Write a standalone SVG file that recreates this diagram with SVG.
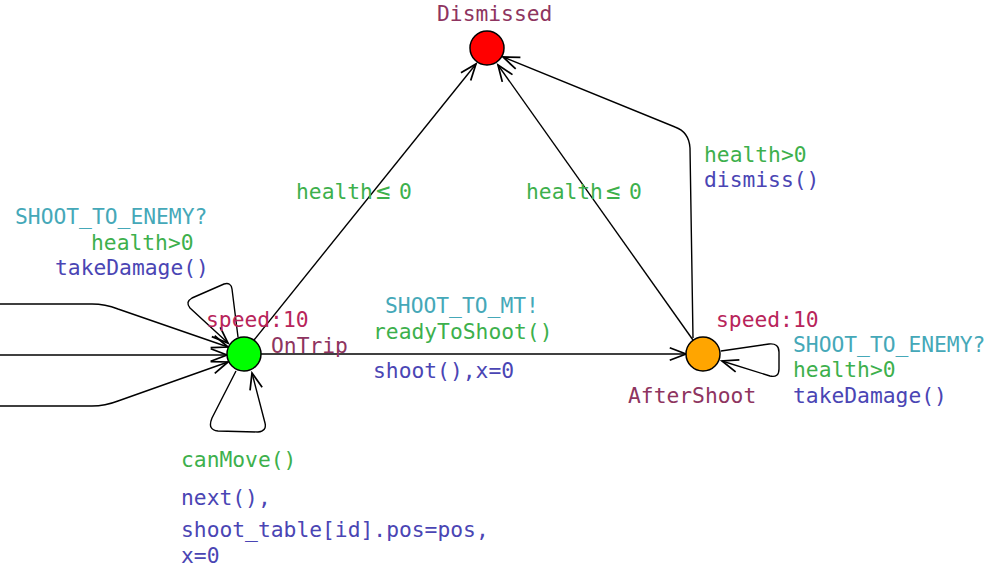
<svg xmlns="http://www.w3.org/2000/svg" width="991" height="571" viewBox="0 0 991 571">
<defs>
<marker id="arr" markerUnits="userSpaceOnUse" markerWidth="20" markerHeight="20" viewBox="-14 -8 16 16" refX="0" refY="0" orient="auto">
<path d="M-13,-5 L0,0 L-13,5" fill="none" stroke="#000" stroke-width="1.4"/>
</marker>
</defs>
<style>
text{font-family:"DejaVu Sans Mono","Liberation Mono",monospace;font-size:21.3px}
.e{fill:none;stroke:#000;stroke-width:1.4;marker-end:url(#arr)}
.loc{stroke:#000;stroke-width:1.5}
.nm{fill:#8e3460}
.inv{fill:#b8245a}
.sy{fill:#45a8b8}
.gd{fill:#3db04c}
.up{fill:#4a45b4}
.le{font-size:24px}
</style>
<g id="connectors">
<path class="e" d="M0,304 L92,304 Q105,304 118,309 L228,347"/>
<path class="e" d="M0,355 L227,355"/>
<path class="e" d="M0,406 L92,406 Q105,406 118,401 L228,362"/>
<path class="e" d="M254,340 L476,64"/>
<path class="e" d="M693,340 L498,65"/>
<path class="e" d="M693,338 L690,148 Q689,132 675,127 L503,57"/>
<path class="e" d="M261,354 L686,354"/>
<path class="e" d="M238,337 L232,289 Q231,282 224,284 L192,298 Q185,302 190,308 L228,343"/>
<path class="e" d="M236,371 L212,418 Q207,430 218,431 L258,432 Q267,431 265,423 L252,373"/>
<path class="e" d="M721,351 L769,344 Q779,343 779,352 L779,369 Q779,378 770,376 L722,361"/>
</g>
<g id="Dismissed">
<circle class="loc" cx="487" cy="48" r="17" fill="#ff0000"/>
<text class="nm" x="437" y="21">Dismissed</text>
</g>
<g id="OnTrip">
<circle class="loc" cx="244" cy="354" r="17" fill="#00ff00"/>
<text class="inv" x="206" y="327">speed:10</text>
<text class="nm" x="271" y="353">OnTrip</text>
</g>
<g id="AfterShoot">
<circle class="loc" cx="703" cy="354" r="17" fill="#ffa500"/>
<text class="inv" x="716" y="327">speed:10</text>
<text class="nm" x="628" y="403">AfterShoot</text>
</g>
<g id="labels">
<text class="gd" x="296" y="199">health<tspan class="le" x="376">≤</tspan><tspan x="399">0</tspan></text>
<text class="gd" x="526" y="199">health<tspan class="le" x="606">≤</tspan><tspan x="629">0</tspan></text>
<text class="gd" x="704" y="162">health&gt;0</text>
<text class="up" x="704" y="187">dismiss()</text>
<text class="sy" x="15" y="224">SHOOT_TO_ENEMY?</text>
<text class="gd" x="91" y="250">health&gt;0</text>
<text class="up" x="55" y="275">takeDamage()</text>
<text class="sy" x="385" y="313">SHOOT_TO_MT!</text>
<text class="gd" x="373" y="339">readyToShoot()</text>
<text class="up" x="373" y="378">shoot(),x=0</text>
<text class="sy" x="793" y="352">SHOOT_TO_ENEMY?</text>
<text class="gd" x="793" y="377">health&gt;0</text>
<text class="up" x="793" y="403">takeDamage()</text>
<text class="gd" x="181" y="467">canMove()</text>
<text class="up" x="181" y="505">next(),</text>
<text class="up" x="181" y="537">shoot_table[id].pos=pos,</text>
<text class="up" x="181" y="563">x=0</text>
</g>
</svg>
